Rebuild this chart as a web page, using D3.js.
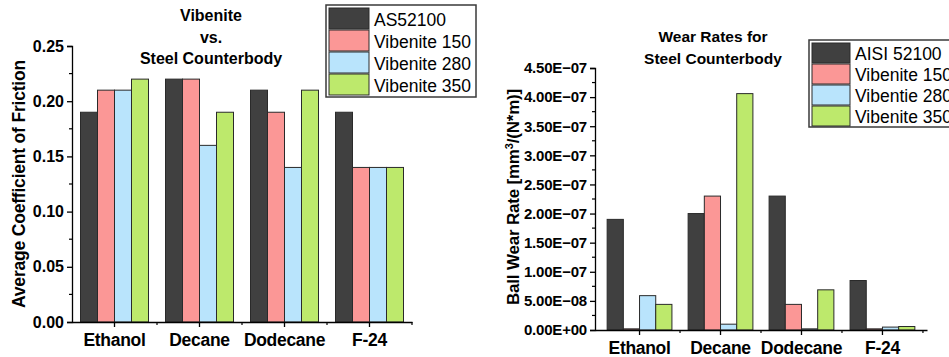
<!DOCTYPE html>
<html>
<head>
<meta charset="utf-8">
<script src="https://cdn.jsdelivr.net/npm/d3@7"></script>
<style>
  body { margin: 0; background: #fff; }
  svg { display: block; font-family: "Liberation Sans", Arial, sans-serif; }
</style>
</head>
<body>
<svg id="chart" width="949" height="357"></svg>
<script>
const categories = ['Ethanol', 'Decane', 'Dodecane', 'F-24'];

// left chart: friction
const frictionSeries = ['AS52100', 'Vibenite 150', 'Vibenite 280', 'Vibenite 350'];
const frictionAS52100 = [0.19, 0.22, 0.21, 0.19];
const friction150 = [0.21, 0.22, 0.19, 0.14];
const friction280 = [0.21, 0.16, 0.14, 0.14];
const friction350 = [0.22, 0.19, 0.21, 0.14];
const frictionTicks = ['0.00', '0.05', '0.10', '0.15', '0.20', '0.25'];

// right chart: wear rates
const wearSeries = ['AISI 52100', 'Vibenite 150', 'Vibentie 280', 'Vibenite 350'];
const wearAISI = [1.9e-7, 2.0e-7, 2.3e-7, 8.5e-8];
const wear150 = [2e-9, 2.3e-7, 4.4e-8, 2e-9];
const wear280 = [5.9e-8, 1.0e-8, 2e-9, 5e-9];
const wear350 = [4.4e-8, 4.06e-7, 6.9e-8, 6e-9];
const wearTicks = ['0.00E+00', '5.00E\u221208', '1.00E\u221207', '1.50E\u221207', '2.00E\u221207',
  '2.50E\u221207', '3.00E\u221207', '3.50E\u221207', '4.00E\u221207', '4.50E\u221207'];

const colors = ['#404040', '#fb9796', '#b9e4fc', '#bde96c'];

const svg = d3.select('#chart');

function drawPanel(opt) {
  const g = svg.append('g');
  const x = d3.scaleBand().domain(categories).range([opt.left, opt.right])
    .paddingInner(0.2).paddingOuter(opt.outer);
  const x1 = d3.scaleBand().domain(d3.range(opt.series.length)).range([0, x.bandwidth()]);
  const tickVals = opt.ticks.map(t => +t.replace('\u2212', '-'));
  const y = d3.scaleLinear().domain([0, d3.max(tickVals)]).range([opt.bottom, opt.top]);

  // bars
  opt.values.forEach((vals, s) => {
    g.selectAll(null).data(vals).enter().append('rect')
      .attr('x', (d, i) => x(categories[i]) + x1(s))
      .attr('y', d => y(d))
      .attr('width', x1.bandwidth())
      .attr('height', d => y(0) - y(d))
      .attr('fill', colors[s])
      .attr('stroke', '#2a2a2a')
      .attr('stroke-width', 1);
  });

  // y axis
  const yAxis = d3.axisLeft(y).tickValues(tickVals).tickFormat((d, i) => opt.ticks[i]).tickSize(5).tickPadding(3);
  const ya = g.append('g').attr('transform', `translate(${opt.left},0)`).call(yAxis);
  ya.select('.domain').attr('stroke', '#000').attr('stroke-width', 1.3);
  ya.selectAll('.tick line').attr('stroke-width', 1.3);
  ya.selectAll('text').attr('font-weight', 'bold').attr('font-size', opt.yFont)
    .attr('letter-spacing', opt.ySpacing).attr('fill', '#000');
  // minor y ticks
  const step = tickVals[1] - tickVals[0];
  const minor = tickVals.slice(0, -1).map(v => v + step / 2);
  g.selectAll(null).data(minor).enter().append('line')
    .attr('x1', opt.left - 3).attr('x2', opt.left)
    .attr('y1', d => y(d)).attr('y2', d => y(d))
    .attr('stroke', '#000').attr('stroke-width', 1.2);

  // x axis
  const xAxis = d3.axisBottom(x).tickSize(5).tickPadding(5).tickSizeOuter(0);
  const xa = g.append('g').attr('transform', `translate(0,${opt.bottom})`).call(xAxis);
  xa.select('.domain').attr('stroke', '#000').attr('stroke-width', 1.5);
  xa.selectAll('.tick line').attr('stroke-width', 1.3);
  xa.selectAll('text').attr('font-size', 17.5).attr('font-weight', 'bold')
    .attr('letter-spacing', -0.3).attr('fill', '#000').attr('dy', '0.8em');
  // minor x ticks at group boundaries
  g.selectAll(null).data(categories).enter().append('line')
    .attr('x1', d => x(d) + x.bandwidth() + x.step() * 0.1)
    .attr('x2', d => x(d) + x.bandwidth() + x.step() * 0.1)
    .attr('y1', opt.bottom).attr('y2', opt.bottom + 3)
    .attr('stroke', '#000').attr('stroke-width', 1.2);

  // y title
  g.append('text')
    .attr('transform', `translate(${opt.yTitleX},${(opt.top + opt.bottom) / 2 + opt.yTitleShift}) rotate(-90)`)
    .attr('text-anchor', 'middle').attr('font-weight', 'bold').attr('font-size', opt.yTitleFont)
    .attr('letter-spacing', -0.2)
    .html(opt.yTitle);

  // title
  opt.title.forEach((line, i) => {
    g.append('text').attr('x', opt.titleX).attr('y', opt.titleY[i])
      .attr('text-anchor', 'middle').attr('font-weight', 'bold').attr('font-size', opt.titleFont)
      .text(line);
  });

  // legend
  const lg = g.append('g').attr('transform', `translate(${opt.legX},${opt.legY})`);
  lg.append('rect').attr('x', 0).attr('y', 0).attr('width', opt.legW).attr('height', opt.legH)
    .attr('fill', '#fff').attr('stroke', '#3a3a3a').attr('stroke-width', 1.5);
  opt.series.forEach((name, i) => {
    lg.append('rect').attr('x', 3).attr('y', 3 + i * opt.legRow)
      .attr('width', opt.swW).attr('height', opt.legRow - 1)
      .attr('fill', colors[i]).attr('stroke', '#2a2a2a').attr('stroke-width', 1);
    lg.append('text').attr('x', opt.swW + 8).attr('y', 3 + i * opt.legRow + opt.legRow * 0.8)
      .attr('font-size', 17.5).attr('fill', '#000').text(name);
  });
}

drawPanel({
  left: 72, right: 412, top: 46, bottom: 322, outer: 0.1,
  series: frictionSeries,
  values: [frictionAS52100, friction150, friction280, friction350],
  ticks: frictionTicks, yFont: 16, ySpacing: 0,
  yTitle: 'Average Coefficient of Friction', yTitleX: 25, yTitleShift: 0, yTitleFont: 17.5,
  title: ['Vibenite', 'vs.', 'Steel Counterbody'], titleX: 211, titleY: [21, 43, 64], titleFont: 16,
  legX: 326, legY: 5, legW: 150, legH: 92, legRow: 22, swW: 40
});

drawPanel({
  left: 595, right: 927, top: 68, bottom: 330, outer: 0.15,
  series: wearSeries,
  values: [wearAISI, wear150, wear280, wear350],
  ticks: wearTicks, yFont: 15, ySpacing: -0.2,
  yTitle: 'Ball Wear Rate [mm<tspan baseline-shift="super" font-size="11">3</tspan>/(N*m)]',
  yTitleX: 519, yTitleShift: -2, yTitleFont: 17,
  title: ['Wear Rates for', 'Steel Counterbody'], titleX: 713, titleY: [42, 64], titleFont: 15.5,
  legX: 809, legY: 40, legW: 160, legH: 87, legRow: 21, swW: 38
});
</script>
</body>
</html>
